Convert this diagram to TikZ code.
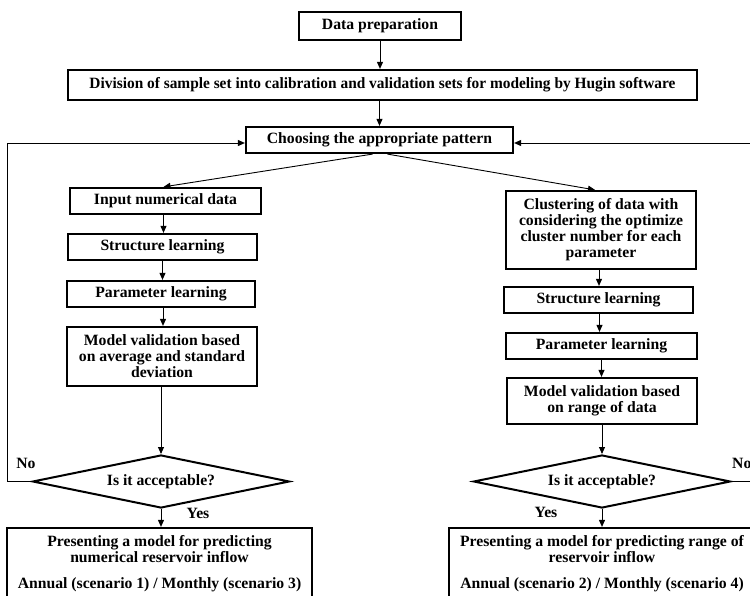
\documentclass[tikz,border=0pt]{standalone}
\usepackage{fontspec}
\usepackage{graphicx}
\setmainfont{Liberation Serif}
\usetikzlibrary{arrows.meta,shapes.geometric}
\begin{document}
\begin{tikzpicture}[x=1pt,y=-1pt,
  txt/.style={font=\fontsize{15.7}{16}\selectfont\bfseries},
  box/.style={txt,draw,line width=2.2pt,rectangle,inner sep=0pt,align=center},
  dec/.style={txt,draw,line width=2pt,diamond,aspect=4.8,inner sep=0pt,minimum width=257pt,minimum height=53pt},
  arr/.style={-{Triangle[length=7pt,width=6pt]},line width=0.9pt},
  lab/.style={txt,inner sep=0pt}]
\useasboundingbox (0,0) rectangle (750,596);
\clip (0,0) rectangle (750,596);
% top
\node[box,minimum width=162pt,minimum height=28pt] (dp) at (380,26) {Data preparation};
\node[box,minimum width=629pt,minimum height=30pt] (div) at (382.5,85) {\resizebox{586pt}{\height}{Division of sample set into calibration and validation sets for modeling by Hugin software}};
\node[box,minimum width=267pt,minimum height=26pt] (ch) at (379.5,140) {Choosing the appropriate pattern};
% left column
\node[box,minimum width=191pt,minimum height=26pt] (in) at (165.5,201) {Input numerical data};
\node[box,minimum width=189pt,minimum height=26pt] (sl1) at (162.5,247) {Structure learning};
\node[box,minimum width=188pt,minimum height=26pt] (pl1) at (161,294) {Parameter learning};
\node[box,minimum width=190pt,minimum height=59pt] (mv1) at (162,356.5) {Model validation based\\on average and standard\\deviation};
\node[dec] (d1) at (161,481.5) {Is it acceptable?};
\node[box,minimum width=305pt,minimum height=72pt] (o1) at (159.5,564) {Presenting a model for predicting\\numerical reservoir inflow\\[10pt]Annual (scenario 1) / Monthly (scenario 3)};
% right column
\node[box,minimum width=190pt,minimum height=78pt] (cl) at (601,230) {Clustering of data with\\considering the optimize\\cluster number for each\\parameter};
\node[box,minimum width=189pt,minimum height=26pt] (sl2) at (598.5,300) {Structure learning};
\node[box,minimum width=191pt,minimum height=26pt] (pl2) at (601.5,346) {Parameter learning};
\node[box,minimum width=190pt,minimum height=46pt] (mv2) at (602,401) {Model validation based\\on range of data};
\node[dec] (d2) at (602,481.5) {Is it acceptable?};
\node[box,minimum width=306pt,minimum height=72pt] (o2) at (602,564) {Presenting a model for predicting range of\\reservoir inflow\\[10pt]Annual (scenario 2) / Monthly (scenario 4)};
% labels
\node[lab] (no1) at (26,463) {No};
\node[lab] (yes1) at (198,513) {Yes};
\node[lab,anchor=west] (no2) at (732,463) {No};
\node[lab] (yes2) at (546,512) {Yes};
% connectors
\draw[arr] (dp.south) -- (dp.south |- div.north);
\draw[arr] (div.south -| ch.north) -- (ch.north);
\draw[arr] ([xshift=-7pt]ch.south) -- ([xshift=-2pt]in.north);
\draw[arr] ([xshift=8pt]ch.south) -- ([xshift=-6pt]cl.north);
\draw[arr] ([xshift=-2pt]in.south) -- ([xshift=-2pt]in.south |- sl1.north);
\draw[arr] (sl1.south) -- (sl1.south |- pl1.north);
\draw[arr] ([xshift=2pt]pl1.south) -- ([xshift=2pt]pl1.south |- mv1.north);
\draw[arr] (d1.north |- mv1.south) -- (d1.north);
\draw[arr] (d1.south) -- (d1.south |- o1.north);
\draw[arr] ([xshift=-2pt]cl.south) -- ([xshift=-2pt]cl.south |- sl2.north);
\draw[arr] ([xshift=1pt]sl2.south) -- ([xshift=1pt]sl2.south |- pl2.north);
\draw[arr] (pl2.south) -- (pl2.south |- mv2.north);
\draw[arr] (mv2.south) -- (d2.north);
\draw[arr] (d2.south) -- (d2.south |- o2.north);
\draw[arr] (d1.west) -- (7,481.5) -- (7,143) -- ([yshift=-3pt]ch.west);
\draw[arr] (d2.east) -- (765,481.5) -- (765,143) -- ([yshift=-3pt]ch.east);
\end{tikzpicture}
\end{document}
